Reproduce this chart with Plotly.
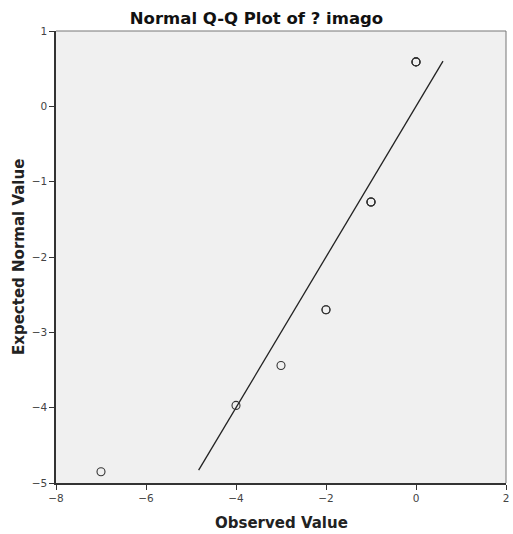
import plotly.graph_objects as go

# Data (observed values; ties repeated so overlapping markers look darker)
observed = [-7, -4, -3, -2, -2, -1, -1, -1, 0, 0, 0]
expected = [-4.85, -3.97, -3.44, -2.70, -2.70, -1.27, -1.27, -1.27, 0.59, 0.59, 0.59]
line_x = [-4.83, 0.6]
line_y = [-4.83, 0.6]
x_ticks = [-8, -6, -4, -2, 0, 2]
y_ticks = [-5, -4, -3, -2, -1, 0, 1]

W, H = 513, 534
L, R, T, B = 56, 7, 31, 51
PW, PH = W - L - R, H - T - B

fig = go.Figure()
fig.add_trace(go.Scatter(x=line_x, y=line_y, mode="lines",
                         line=dict(color="#222222", width=1.3), showlegend=False))
fig.add_trace(go.Scatter(x=observed, y=expected, mode="markers",
                         marker=dict(symbol="circle-open", size=8, color="#333333",
                                     line=dict(width=1.1)),
                         showlegend=False))

font_family = "DejaVu Sans, Verdana, sans-serif"
fig.update_layout(
    width=W, height=H,
    margin=dict(l=L, r=R, t=T, b=B, autoexpand=False),
    paper_bgcolor="white", plot_bgcolor="#f0f0f0",
    font=dict(family=font_family, color="#333333", size=10),
    title=dict(text="<b>Normal Q-Q Plot of ? imago</b>", x=0.5, xanchor="center",
               y=1 - 18/H, yanchor="middle",
               font=dict(size=16.5, color="#111111", family=font_family)),
)
# lighter top/right frame
fig.add_shape(type="line", xref="paper", yref="paper", x0=0, x1=1, y0=1, y1=1,
              line=dict(color="#777777", width=1), layer="above")
fig.add_shape(type="line", xref="paper", yref="paper", x0=1, x1=1, y0=0, y1=1,
              line=dict(color="#777777", width=1), layer="above")
fig.add_annotation(text="<b>Observed Value</b>", xref="paper", yref="paper",
                   x=0.5, y=-(523 - (H - B)) / PH, xanchor="center", yanchor="middle",
                   showarrow=False, font=dict(size=15, color="#222222"))
fig.add_annotation(text="<b>Expected Normal Value</b>", xref="paper", yref="paper",
                   x=(19 - L) / PW, y=0.5, xanchor="center", yanchor="middle",
                   textangle=-90, showarrow=False, font=dict(size=15, color="#222222"))
fig.update_xaxes(range=[-8, 2], tickvals=x_ticks, ticks="outside", ticklen=5,
                 tickcolor="#333333", showgrid=False, zeroline=False,
                 showline=True, linecolor="#333333", linewidth=1.5, mirror=False,
                 automargin=False, ticklabeloverflow="allow",
                 tickfont=dict(size=10.5, color="#444444"))
fig.update_yaxes(range=[-5, 1], tickvals=y_ticks, ticks="outside", ticklen=5,
                 tickcolor="#333333", showgrid=False, zeroline=False,
                 showline=True, linecolor="#333333", linewidth=1.5, mirror=False,
                 automargin=False,
                 tickfont=dict(size=10.5, color="#444444"))

fig.write_html("out.html", config={"displayModeBar": False},
               post_script="document.body.style.margin='0px';document.body.style.overflow='hidden';")
